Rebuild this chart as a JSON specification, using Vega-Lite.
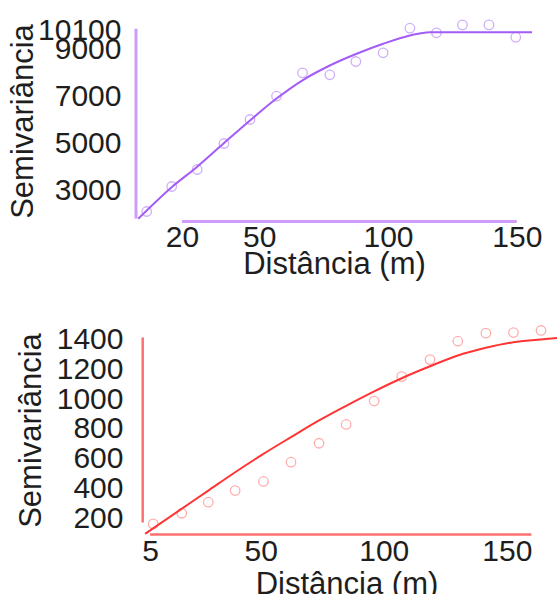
{
  "$schema": "https://vega.github.io/schema/vega-lite/v6.json",
  "background": "white",
  "bounds": "flush",
  "spacing": 104,
  "padding": {"left": 7, "top": 15.5, "right": 0, "bottom": 0},
  "config": {
    "view": {"stroke": null},
    "font": "Liberation Sans",
    "axis": {
      "grid": false,
      "domain": false,
      "ticks": false,
      "tickSize": 0,
      "tickCount": 20,
      "labelOverlap": false,
      "labelFlush": false,
      "labelBound": false,
      "format": "d",
      "labelFont": "Liberation Sans",
      "labelFontSize": 30,
      "labelColor": "#1e1e1e",
      "titleFont": "Liberation Sans",
      "titleFontSize": 31,
      "titleFontWeight": "normal",
      "titleColor": "#1e1e1e"
    }
  },
  "datasets": {
    "semivarA": [
      {"lag": 6.3, "gamma": 2104},
      {"lag": 16.0, "gamma": 3171},
      {"lag": 25.9, "gamma": 3896},
      {"lag": 36.3, "gamma": 5004},
      {"lag": 46.4, "gamma": 6028},
      {"lag": 56.7, "gamma": 7021},
      {"lag": 66.8, "gamma": 8019},
      {"lag": 77.4, "gamma": 7934},
      {"lag": 87.5, "gamma": 8501},
      {"lag": 98.1, "gamma": 8872},
      {"lag": 108.5, "gamma": 9921},
      {"lag": 118.8, "gamma": 9725},
      {"lag": 128.9, "gamma": 10060},
      {"lag": 139.2, "gamma": 10060},
      {"lag": 149.6, "gamma": 9537}
    ],
    "modelA": [
      {"lag": 3.0, "gamma": 1793},
      {"lag": 16.0, "gamma": 3141},
      {"lag": 25.7, "gamma": 3994},
      {"lag": 36.0, "gamma": 4991},
      {"lag": 46.4, "gamma": 5985},
      {"lag": 56.7, "gamma": 6920},
      {"lag": 67.1, "gamma": 7720},
      {"lag": 77.4, "gamma": 8330},
      {"lag": 87.8, "gamma": 8829},
      {"lag": 98.1, "gamma": 9256},
      {"lag": 108.5, "gamma": 9610},
      {"lag": 116.2, "gamma": 9751},
      {"lag": 125.3, "gamma": 9751},
      {"lag": 156.0, "gamma": 9751}
    ],
    "semivarB": [
      {"lag": 6.3, "gamma": 164},
      {"lag": 17.9, "gamma": 235},
      {"lag": 28.7, "gamma": 309},
      {"lag": 39.6, "gamma": 387},
      {"lag": 51.1, "gamma": 448},
      {"lag": 62.3, "gamma": 577},
      {"lag": 73.7, "gamma": 704},
      {"lag": 84.7, "gamma": 830},
      {"lag": 96.1, "gamma": 987},
      {"lag": 107.3, "gamma": 1151},
      {"lag": 118.8, "gamma": 1265},
      {"lag": 130.1, "gamma": 1388},
      {"lag": 141.5, "gamma": 1442},
      {"lag": 152.7, "gamma": 1446},
      {"lag": 163.9, "gamma": 1460}
    ],
    "modelB": [
      {"lag": 3.0, "gamma": 97},
      {"lag": 28.7, "gamma": 387},
      {"lag": 39.6, "gamma": 510},
      {"lag": 51.1, "gamma": 633},
      {"lag": 62.3, "gamma": 745},
      {"lag": 73.7, "gamma": 857},
      {"lag": 84.7, "gamma": 955},
      {"lag": 96.1, "gamma": 1052},
      {"lag": 107.3, "gamma": 1140},
      {"lag": 118.8, "gamma": 1220},
      {"lag": 130.1, "gamma": 1292},
      {"lag": 141.5, "gamma": 1344},
      {"lag": 152.7, "gamma": 1381},
      {"lag": 163.9, "gamma": 1399},
      {"lag": 172.0, "gamma": 1412}
    ]
  },
  "vconcat": [
    {
      "width": 396,
      "height": 201,
      "layer": [
        {
          "data": {"name": "semivarA"},
          "mark": {"type": "point", "shape": "circle", "filled": false, "size": 90, "strokeWidth": 1.3, "color": "#BB8DF6"},
          "encoding": {
            "x": {
              "field": "lag", "type": "quantitative",
              "scale": {"domain": [2.14, 155.9], "nice": false, "zero": false},
              "axis": {"title": "Distância (m)", "values": [20, 50, 100, 150], "labelPadding": 1, "titlePadding": -3}
            },
            "y": {
              "field": "gamma", "type": "quantitative",
              "scale": {"domain": [1678, 10249], "nice": false, "zero": false},
              "axis": {
                "title": "Semivariância",
                "values": [3000, 5000, 7000, 9000, 10100],
                "labelPadding": 15,
                "titlePadding": -2,
                "labelOffset": {"condition": {"test": "datum.value === 10100", "value": 7}, "value": 0}
              }
            }
          }
        },
        {
          "data": {"name": "modelA"},
          "mark": {"type": "line", "color": "#A35CF5", "strokeWidth": 2, "interpolate": "monotone", "clip": true},
          "encoding": {
            "x": {"field": "lag", "type": "quantitative"},
            "y": {"field": "gamma", "type": "quantitative"}
          }
        },
        {
          "data": {"values": [{}]},
          "mark": {"type": "rule", "color": "#CF9CFB", "strokeWidth": 3},
          "encoding": {
            "x": {"datum": 20, "type": "quantitative"},
            "x2": {"datum": 150},
            "y": {"datum": 1678, "type": "quantitative"}
          }
        },
        {
          "data": {"values": [{}]},
          "mark": {"type": "rule", "color": "#CF9CFB", "strokeWidth": 3},
          "encoding": {
            "x": {"datum": 2.14, "type": "quantitative"},
            "y": {"datum": 1800, "type": "quantitative"},
            "y2": {"datum": 9900}
          }
        }
      ]
    },
    {
      "width": 421,
      "height": 209,
      "layer": [
        {
          "data": {"name": "semivarB"},
          "mark": {"type": "point", "shape": "circle", "filled": false, "size": 90, "strokeWidth": 1.3, "color": "#FF8C8C"},
          "encoding": {
            "x": {
              "field": "lag", "type": "quantitative",
              "scale": {"domain": [-0.69, 170.4], "nice": false, "zero": false},
              "axis": {"title": "Distância (m)", "values": [5, 50, 100, 150], "labelPadding": 2, "titlePadding": 2.5}
            },
            "y": {
              "field": "gamma", "type": "quantitative",
              "scale": {"domain": [92.5, 1493.3], "nice": false, "zero": false},
              "axis": {
                "title": "Semivariância",
                "values": [200, 400, 600, 800, 1000, 1200, 1400],
                "labelPadding": 13,
                "titlePadding": 9
              }
            }
          }
        },
        {
          "data": {"name": "modelB"},
          "mark": {"type": "line", "color": "#FF3535", "strokeWidth": 2, "interpolate": "monotone", "clip": true},
          "encoding": {
            "x": {"field": "lag", "type": "quantitative"},
            "y": {"field": "gamma", "type": "quantitative"}
          }
        },
        {
          "data": {"values": [{}]},
          "mark": {"type": "rule", "color": "#FF7070", "strokeWidth": 2.5},
          "encoding": {
            "x": {"datum": 5, "type": "quantitative"},
            "x2": {"datum": 160},
            "y": {"datum": 92.5, "type": "quantitative"}
          }
        },
        {
          "data": {"values": [{}]},
          "mark": {"type": "rule", "color": "#FF7070", "strokeWidth": 2.5},
          "encoding": {
            "x": {"datum": 2.03, "type": "quantitative"},
            "y": {"datum": 173, "type": "quantitative"},
            "y2": {"datum": 1413}
          }
        }
      ]
    }
  ]
}
